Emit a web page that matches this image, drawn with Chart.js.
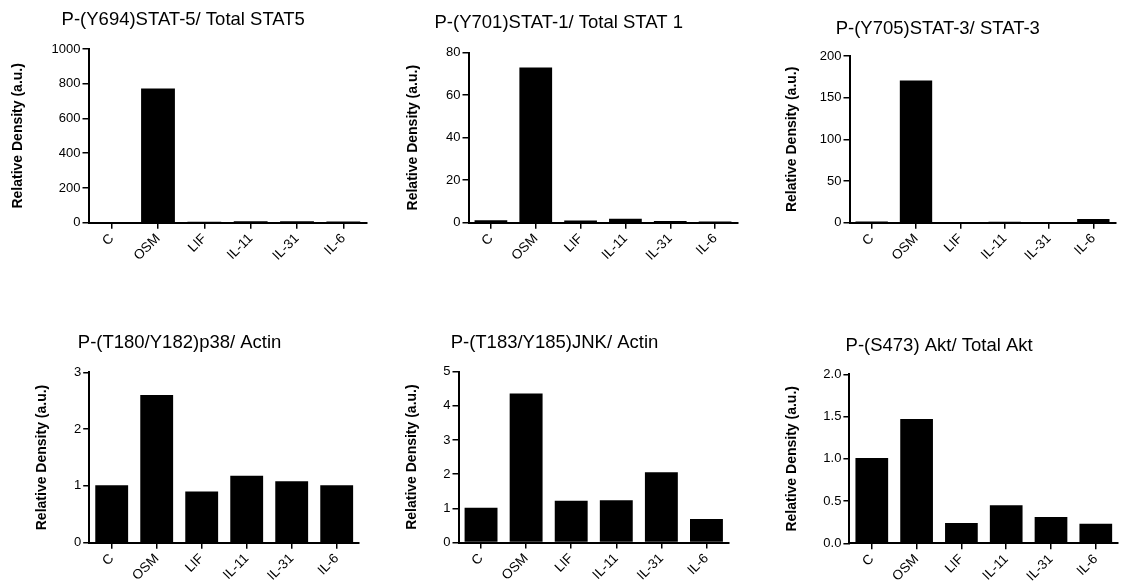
<!DOCTYPE html>
<html>
<head>
<meta charset="utf-8">
<script src="https://cdn.jsdelivr.net/npm/chart.js@4"></script>
<style>
  html, body { margin: 0; padding: 0; background: #fff; overflow: hidden; }
  body { width: 1121px; height: 581px; position: relative; }
  canvas { position: absolute; }
</style>
</head>
<body>
<canvas id="c1"></canvas>
<canvas id="c2"></canvas>
<canvas id="c3"></canvas>
<canvas id="c4"></canvas>
<canvas id="c5"></canvas>
<canvas id="c6"></canvas>
<script>
// Dados
const categories = ['C', 'OSM', 'LIF', 'IL-11', 'IL-31', 'IL-6'];
const titles = [
    'P-(Y694)STAT-5/ Total STAT5',
    'P-(Y701)STAT-1/ Total STAT 1',
    'P-(Y705)STAT-3/ STAT-3',
    'P-(T180/Y182)p38/ Actin',
    'P-(T183/Y185)JNK/ Actin',
    'P-(S473) Akt/ Total Akt'
];
const stat5 = [3, 772, 6, 8, 8, 7];
const stat1 = [1.2, 73, 1.0, 1.9, 0.8, 0.6];
const stat3 = [1.5, 170.5, 0.5, 1.2, 0.5, 4.5];
const p38 = [1.01, 2.60, 0.90, 1.18, 1.08, 1.01];
const jnk = [1.02, 4.36, 1.22, 1.24, 2.06, 0.69];
const akt = [1.01, 1.47, 0.24, 0.45, 0.31, 0.23];
const yMax = [1000, 80, 200, 3, 5, 2];
const yStep = [200, 20, 50, 1, 1, 0.5];
const yDecimals = [0, 0, 0, 0, 0, 1];
const yTitle = 'Relative Density (a.u.)';

// Posição de cada painel na página (px)
const boxes = [
    { left: 0,   top: 0,   w: 416, h: 290, plotL: 88.5,  plotR: 366.5,  plotT: 49,    plotB: 222.7, titleY: 20,    ylabX: 18 },
    { left: 380, top: 0,   w: 422, h: 290, plotL: 468.5, plotR: 737.5,  plotT: 52.7,  plotB: 222.7, titleY: 22.7,  ylabX: 413 },
    { left: 760, top: 0,   w: 414, h: 290, plotL: 849.5, plotR: 1115.5, plotT: 56,    plotB: 222.7, titleY: 29,    ylabX: 791.7 },
    { left: 0,   top: 290, w: 426, h: 291, plotL: 89.2,  plotR: 359.2,  plotT: 372.3, plotB: 542.7, titleY: 343.3, ylabX: 41.7 },
    { left: 380, top: 290, w: 404, h: 291, plotL: 458.5, plotR: 729,    plotT: 371.7, plotB: 542.5, titleY: 343.3, ylabX: 411.7 },
    { left: 760, top: 290, w: 422, h: 291, plotL: 849.4, plotR: 1118.2, plotT: 374.3, plotB: 543.3, titleY: 346,   ylabX: 791.7 }
];
const series = [stat5, stat1, stat3, p38, jnk, akt];

const FONT = "'Liberation Sans', Arial, sans-serif";
const TITLE_SIZE = 18.5;
const YLAB_SIZE = 14;

function drawPanel(i) {
    const b = boxes[i];
    const cv = document.getElementById('c' + (i + 1));
    cv.width = b.w;
    cv.height = b.h;
    cv.style.left = b.left + 'px';
    cv.style.top = b.top + 'px';

    const titleLH = TITLE_SIZE * 1.2;
    const titlePadTop = (b.titleY - b.top) - titleLH / 2;
    const titlePadBottom = (b.plotT - b.top) - titlePadTop - titleLH;
    const yWidth = b.plotL - b.left;
    const xHeight = (b.top + b.h) - b.plotB;
    const ylabPad = (b.ylabX - b.left) - YLAB_SIZE * 1.2 / 2;

    new Chart(cv.getContext('2d'), {
        type: 'bar',
        data: {
            labels: categories,
            datasets: [{
                data: series[i],
                backgroundColor: '#000',
                borderWidth: 0,
                barPercentage: 0.73,
                categoryPercentage: 1
            }]
        },
        options: {
            responsive: false,
            animation: false,
            devicePixelRatio: 1,
            layout: { padding: { left: 0, top: 0, bottom: 0, right: (b.left + b.w) - b.plotR } },
            plugins: {
                legend: { display: false },
                tooltip: { enabled: false },
                title: {
                    display: true,
                    text: titles[i],
                    color: '#000',
                    font: { family: FONT, size: TITLE_SIZE, weight: 'normal' },
                    padding: { top: titlePadTop, bottom: titlePadBottom }
                }
            },
            scales: {
                x: {
                    offset: true,
                    afterFit: s => { s.height = xHeight; },
                    grid: { display: true, offset: false, drawOnChartArea: false, drawTicks: true, tickLength: 6, color: '#000', lineWidth: 1.5 },
                    border: { display: true, color: '#000', width: 2 },
                    ticks: {
                        color: '#000',
                        font: { family: FONT, size: 13.5 },
                        minRotation: 45,
                        maxRotation: 45,
                        padding: 2,
                        autoSkip: false
                    }
                },
                y: {
                    min: 0,
                    max: yMax[i],
                    afterFit: s => { s.width = yWidth; },
                    grid: { display: true, drawOnChartArea: false, drawTicks: true, tickLength: 6, color: '#000', lineWidth: 1.5 },
                    border: { display: true, color: '#000', width: 2 },
                    ticks: {
                        stepSize: yStep[i],
                        color: '#000',
                        padding: 2,
                        font: { family: FONT, size: 13 },
                        callback: v => v.toFixed(yDecimals[i])
                    },
                    title: {
                        display: true,
                        text: yTitle,
                        color: '#000',
                        font: { family: FONT, size: YLAB_SIZE, weight: 'bold' },
                        padding: { top: ylabPad, bottom: 0 }
                    }
                }
            }
        }
    });
}

for (let i = 0; i < 6; i++) {
    drawPanel(i);
}
</script>
</body>
</html>
